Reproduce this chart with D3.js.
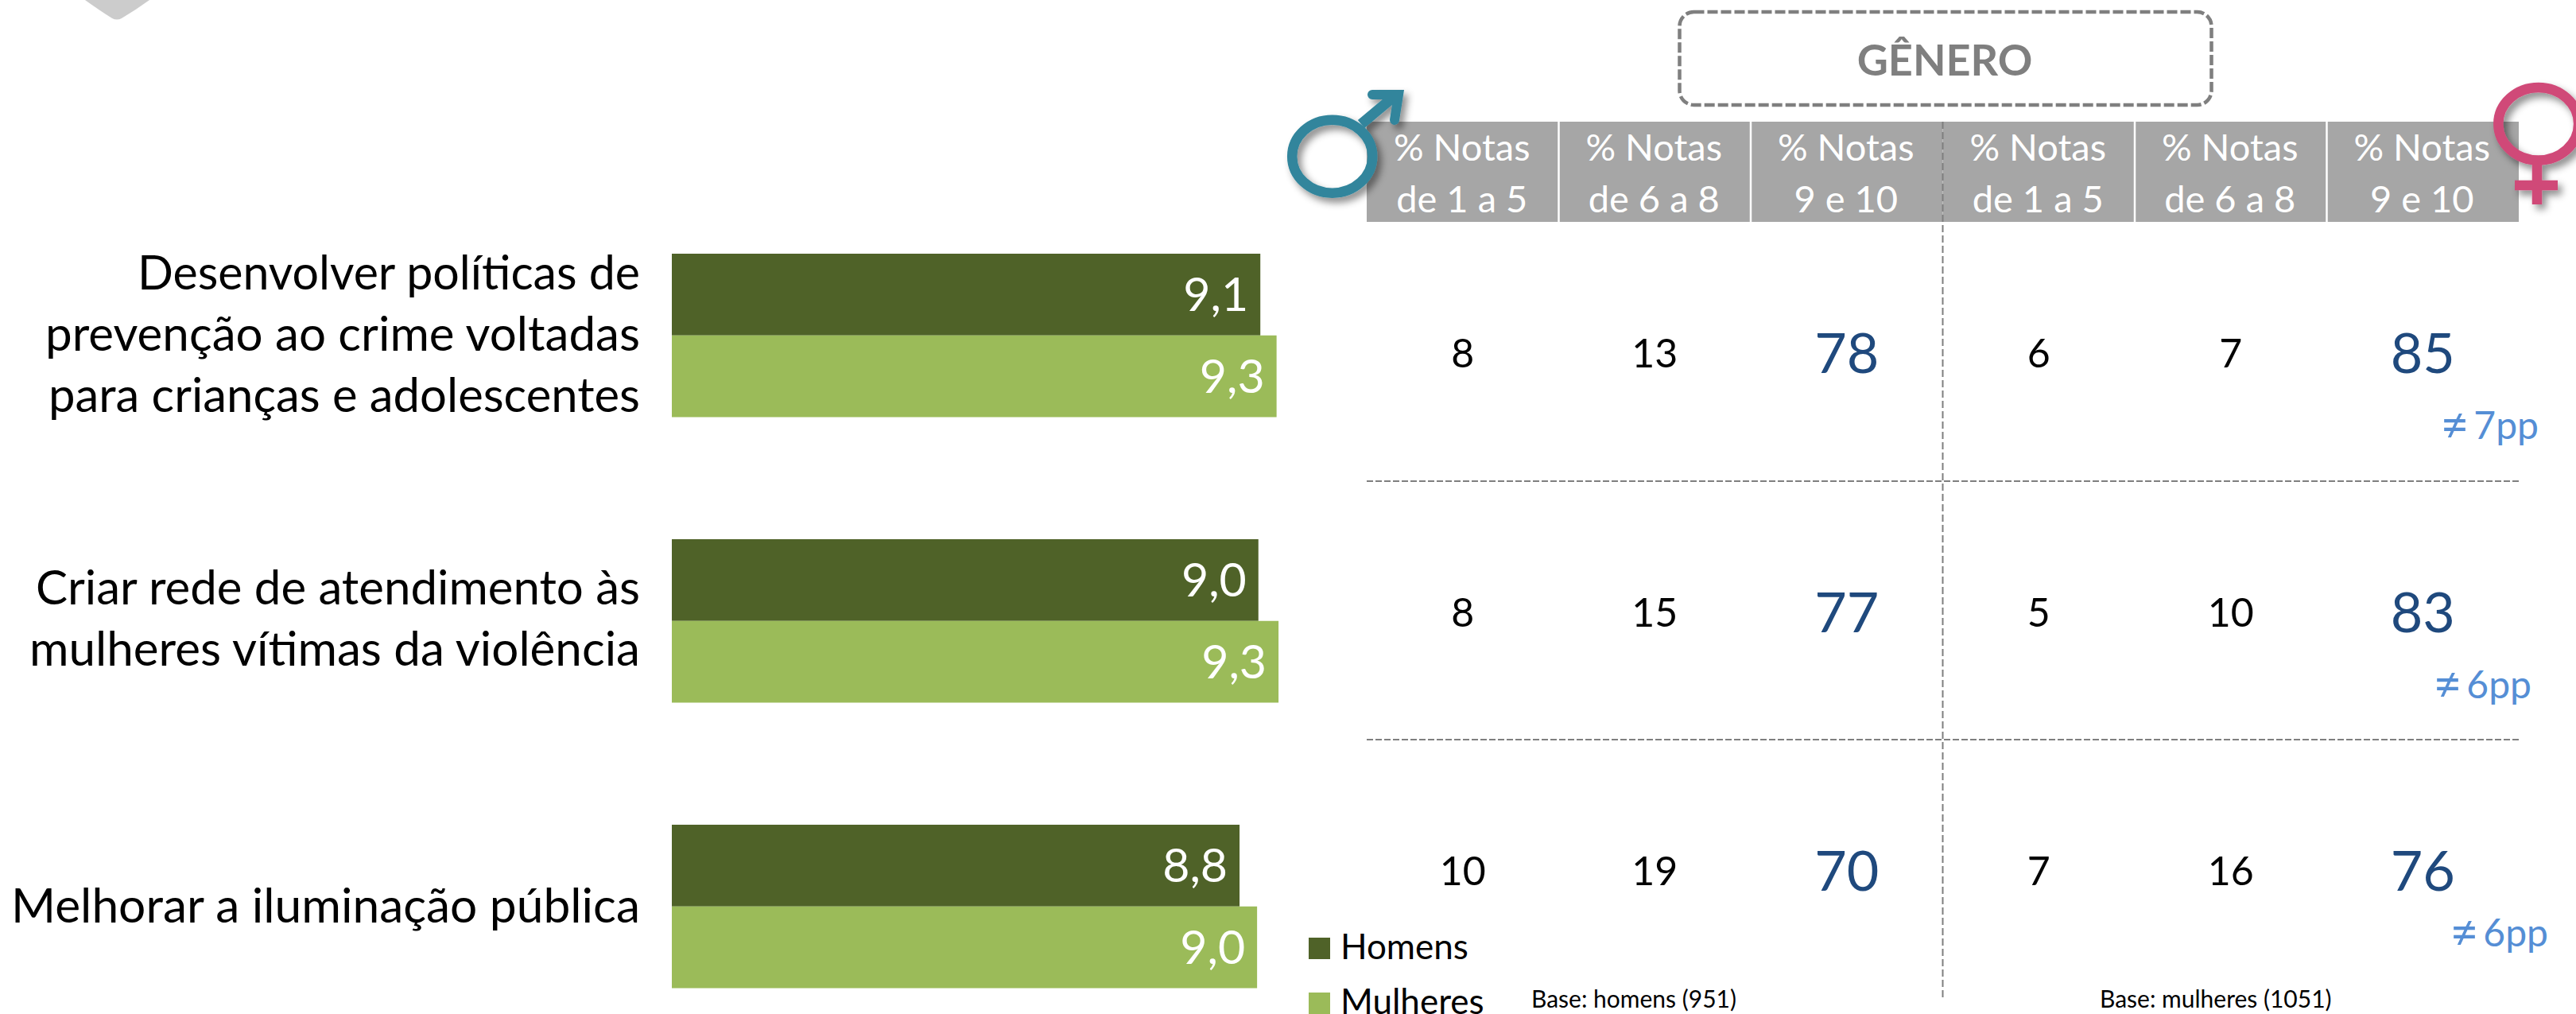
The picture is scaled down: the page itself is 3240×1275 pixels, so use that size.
<!DOCTYPE html>
<html>
<head>
<meta charset="utf-8">
<script src="https://cdn.jsdelivr.net/npm/d3@7"></script>
<style>
  html, body { margin: 0; padding: 0; background: #fff; overflow: hidden; }
  text { font-family: Lato, Carlito, sans-serif; }
</style>
</head>
<body>
<script>
// chart values
var categories = [
    ["Desenvolver políticas de", "prevenção ao crime voltadas", "para crianças e adolescentes"],
    ["Criar rede de atendimento às", "mulheres vítimas da violência"],
    ["Melhorar a iluminação pública"]
];
var seriesNames = ["Homens", "Mulheres"];
var homens = [9.06, 9.03, 8.74];
var mulheres = [9.31, 9.34, 9.01];
var homensLabels = ["9,1", "9,0", "8,8"];
var mulheresLabels = ["9,3", "9,3", "9,0"];

var headerTop = ["% Notas", "% Notas", "% Notas", "% Notas", "% Notas", "% Notas"];
var headerBottom = ["de 1 a 5", "de 6 a 8", "9 e 10", "de 1 a 5", "de 6 a 8", "9 e 10"];
var table = [
    [8, 13, 78, 6, 7, 85],
    [8, 15, 77, 5, 10, 83],
    [10, 19, 70, 7, 16, 76]
];
var diffs = ["7pp", "6pp", "6pp"];

var width = 3240, height = 1275;
var colors = {homens: "#4F6228", mulheres: "#9BBB59", header: "#A6A6A6", dash: "#7F7F7F",
    male: "#31859C", female: "#D04A78", strong: "#1F497D", diff: "#558ED5"};

var svg = d3.select("body").append("svg")
    .attr("width", width)
    .attr("height", height)
    .style("display", "block");

var defs = svg.append("defs");
defs.append("filter").attr("id", "shadow")
    .attr("x", "-30%").attr("y", "-30%").attr("width", "170%").attr("height", "170%")
    .append("feDropShadow")
    .attr("dx", 5).attr("dy", 6).attr("stdDeviation", 5)
    .attr("flood-color", "#000").attr("flood-opacity", 0.45);

// leftover logo corner, top left
svg.append("path")
    .attr("d", "M107,0 Q125,13 141,23 Q147,26 153,23 Q170,13 188,0 Z")
    .attr("fill", "#CCCCCC");

// scales
var x = d3.scaleLinear().domain([0, 10]).range([845, 1662]);
var rowBand = d3.scaleBand().domain(d3.range(categories.length))
    .range([319, 1242.5]).paddingInner(0.4276).paddingOuter(0);
var serieBand = d3.scaleBand().domain(seriesNames).range([0, rowBand.bandwidth()]);
var col = d3.scaleBand().domain(d3.range(headerTop.length)).range([1719, 3168]);
var rowY = d3.scalePoint().domain(d3.range(table.length)).range([444, 1095]);

// bars
var barData = [];
categories.forEach(function(c, i) {
    barData.push({row: i, serie: "Homens", value: homens[i], label: homensLabels[i], color: colors.homens});
    barData.push({row: i, serie: "Mulheres", value: mulheres[i], label: mulheresLabels[i], color: colors.mulheres});
});

svg.selectAll("rect.bar")
    .data(barData)
    .enter().append("rect")
    .attr("class", "bar")
    .attr("x", x(0))
    .attr("y", function(d) { return rowBand(d.row) + serieBand(d.serie); })
    .attr("width", function(d) { return x(d.value) - x(0); })
    .attr("height", serieBand.bandwidth())
    .attr("fill", function(d) { return d.color; });

svg.selectAll("text.barlabel")
    .data(barData)
    .enter().append("text")
    .attr("class", "barlabel")
    .attr("x", function(d) { return x(d.value) - 15; })
    .attr("y", function(d) { return rowBand(d.row) + serieBand(d.serie) + serieBand.bandwidth() / 2 + 21; })
    .attr("text-anchor", "end")
    .attr("font-size", 59)
    .attr("fill", "#fff")
    .text(function(d) { return d.label; });

// category labels, widths measured on the reference since Lato runs a bit different
var catWidths = [[632, 748, 744], [760, 768], [791]];
var catOffsets = [19, 18, 20];
categories.forEach(function(lines, i) {
    var mid = rowBand(i) + rowBand.bandwidth() / 2 + catOffsets[i];
    svg.selectAll(null)
        .data(lines)
        .enter().append("text")
        .attr("x", 805)
        .attr("y", function(d, j) { return mid + (j - (lines.length - 1) / 2) * 77; })
        .attr("text-anchor", "end")
        .attr("font-size", 60)
        .attr("textLength", function(d, j) { return catWidths[i][j]; })
        .attr("lengthAdjust", "spacingAndGlyphs")
        .attr("fill", "#000")
        .text(function(d) { return d; });
});

// GENERO box
svg.append("rect")
    .attr("x", 2112.5).attr("y", 15)
    .attr("width", 669).attr("height", 117)
    .attr("rx", 18)
    .attr("fill", "none")
    .attr("stroke", colors.dash)
    .attr("stroke-width", 4.5)
    .attr("stroke-dasharray", "13,4");
svg.append("text")
    .attr("x", 2446).attr("y", 95)
    .attr("text-anchor", "middle")
    .attr("font-size", 54)
    .attr("font-weight", 700)
    .attr("fill", colors.dash)
    .text("GÊNERO");

// header cells
svg.selectAll("rect.head")
    .data(headerTop)
    .enter().append("rect")
    .attr("class", "head")
    .attr("x", function(d, i) { return col(i); })
    .attr("y", 153)
    .attr("width", col.bandwidth())
    .attr("height", 126)
    .attr("fill", colors.header);

svg.selectAll("line.sep")
    .data([1, 2, 4, 5])
    .enter().append("line")
    .attr("class", "sep")
    .attr("x1", function(d) { return col(d); })
    .attr("x2", function(d) { return col(d); })
    .attr("y1", 153).attr("y2", 279)
    .attr("stroke", "#fff").attr("stroke-width", 2.5);

svg.selectAll("text.headtop")
    .data(headerTop)
    .enter().append("text")
    .attr("class", "headtop")
    .attr("x", function(d, i) { return col(i) + col.bandwidth() / 2 - 1; })
    .attr("y", 202)
    .attr("text-anchor", "middle")
    .attr("font-size", 47)
    .attr("fill", "#fff")
    .text(function(d) { return d; });

svg.selectAll("text.headbottom")
    .data(headerBottom)
    .enter().append("text")
    .attr("class", "headbottom")
    .attr("x", function(d, i) { return col(i) + col.bandwidth() / 2 - 1; })
    .attr("y", 267)
    .attr("text-anchor", "middle")
    .attr("font-size", 47)
    .attr("fill", "#fff")
    .text(function(d) { return d; });

// dashed table grid
svg.append("line")
    .attr("x1", col(3)).attr("x2", col(3))
    .attr("y1", 153).attr("y2", 1256)
    .attr("stroke", colors.dash).attr("stroke-width", 2)
    .attr("stroke-dasharray", "9,4");

svg.selectAll("line.rule")
    .data([605, 930])
    .enter().append("line")
    .attr("class", "rule")
    .attr("x1", 1719).attr("x2", 3168)
    .attr("y1", function(d) { return d; })
    .attr("y2", function(d) { return d; })
    .attr("stroke", colors.dash).attr("stroke-width", 2)
    .attr("stroke-dasharray", "8,3");

// table values, the "9 e 10" columns are bigger and blue
table.forEach(function(row, r) {
    svg.selectAll(null)
        .data(row)
        .enter().append("text")
        .attr("x", function(d, i) { return col(i) + col.bandwidth() / 2; })
        .attr("y", function(d, i) { return rowY(r) + (i % 3 == 2 ? 25 : 18); })
        .attr("text-anchor", "middle")
        .attr("font-size", function(d, i) { return i % 3 == 2 ? 70 : 50; })
        .attr("fill", function(d, i) { return i % 3 == 2 ? colors.strong : "#000"; })
        .text(function(d) { return d; });
});

// difference notes, the Lato sign is small so it gets its own size
var diffX = [3193, 3184, 3205];
var diffY = [552, 878, 1190];
var diffText = svg.selectAll("text.diff")
    .data(diffs)
    .enter().append("text")
    .attr("class", "diff")
    .attr("x", function(d, i) { return diffX[i]; })
    .attr("y", function(d, i) { return diffY[i]; })
    .attr("text-anchor", "end")
    .attr("font-size", 48)
    .attr("fill", colors.diff);
diffText.append("tspan").attr("font-size", 62).attr("dy", 4).text("≠");
diffText.append("tspan").attr("dx", 6).attr("dy", -4).text(function(d) { return d; });

// legend
var legendY = d3.scalePoint().domain(seriesNames).range([1179, 1248]);
svg.selectAll("rect.legend")
    .data(seriesNames)
    .enter().append("rect")
    .attr("class", "legend")
    .attr("x", 1646)
    .attr("y", function(d) { return legendY(d); })
    .attr("width", 27).attr("height", 27)
    .attr("fill", function(d, i) { return i == 0 ? colors.homens : colors.mulheres; });
svg.selectAll("text.legend")
    .data(seriesNames)
    .enter().append("text")
    .attr("class", "legend")
    .attr("x", 1686)
    .attr("y", function(d) { return legendY(d) + 27; })
    .attr("font-size", 44)
    .attr("fill", "#000")
    .text(function(d) { return d; });

// bases
svg.append("text").attr("x", 1926).attr("y", 1267)
    .attr("font-size", 30).attr("fill", "#000")
    .text("Base: homens (951)");
svg.append("text").attr("x", 2641).attr("y", 1267)
    .attr("font-size", 30).attr("fill", "#000")
    .text("Base: mulheres (1051)");

// gender symbols
var male = svg.append("g").attr("filter", "url(#shadow)");
male.append("ellipse")
    .attr("cx", 1675.7).attr("cy", 196.7)
    .attr("rx", 50.5).attr("ry", 46)
    .attr("fill", "none").attr("stroke", colors.male).attr("stroke-width", 12.5);
male.append("path")
    .attr("d", "M1712,156 L1755,120")
    .attr("fill", "none").attr("stroke", colors.male).attr("stroke-width", 13);
male.append("path")
    .attr("d", "M1726,119 L1759,119 L1754,151")
    .attr("fill", "none").attr("stroke", colors.male).attr("stroke-width", 12)
    .attr("stroke-linecap", "round").attr("stroke-linejoin", "miter");

var female = svg.append("g").attr("filter", "url(#shadow)");
female.append("ellipse")
    .attr("cx", 3192.7).attr("cy", 155.7)
    .attr("rx", 50.4).attr("ry", 45.7)
    .attr("fill", "none").attr("stroke", colors.female).attr("stroke-width", 12.5);
female.append("path")
    .attr("d", "M3191,205 L3191,257 M3163,233 L3217,233")
    .attr("fill", "none").attr("stroke", colors.female).attr("stroke-width", 12.5);
</script>
</body>
</html>
